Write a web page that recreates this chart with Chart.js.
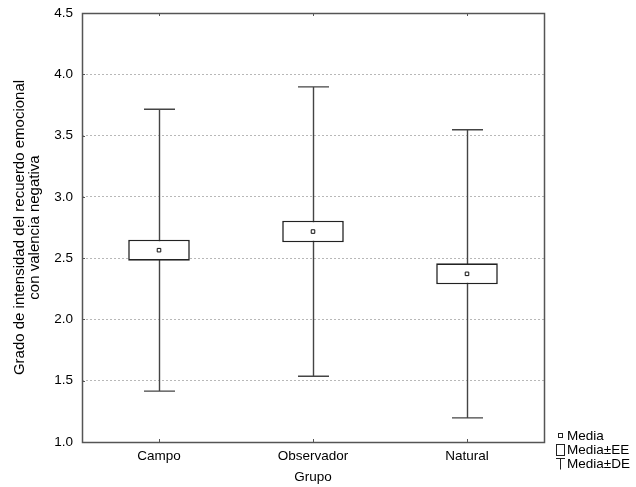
<!DOCTYPE html>
<html>
<head>
<meta charset="utf-8">
<script src="https://cdn.jsdelivr.net/npm/chart.js@4"></script>
<style>
html,body{margin:0;padding:0;background:#fff;}
#wrap{width:636px;height:487px;position:relative;}
</style>
</head>
<body>
<div id="wrap"><canvas id="c" width="636" height="487"></canvas></div>
<script>
const categories = ['Campo', 'Observador', 'Natural'];
const means = [2.565, 2.717, 2.372];
const se = [0.086, 0.088, 0.086];
const sd = [1.15, 1.18, 1.175];
const yTicks = [1.0, 1.5, 2.0, 2.5, 3.0, 3.5, 4.0, 4.5];
const legendLabels = ['Media', 'Media\u00B1EE', 'Media\u00B1DE'];
const yTitle = ['Grado de intensidad del recuerdo emocional', 'con valencia negativa'];
const xTitle = 'Grupo';

const FONT = 'Arial, "Liberation Sans", sans-serif';

const whiskerPlugin = {
  id: 'whiskers',
  beforeDatasetsDraw(chart) {
    const {ctx, scales: {x, y}} = chart;
    ctx.save();
    ctx.strokeStyle = '#444';
    ctx.lineWidth = 1.4;
    categories.forEach((c, i) => {
      const px = Math.round(x.getPixelForValue(i)) + 0.5;
      const top = y.getPixelForValue(means[i] + sd[i]);
      const bot = y.getPixelForValue(means[i] - sd[i]);
      ctx.beginPath();
      ctx.moveTo(px, top); ctx.lineTo(px, bot);
      ctx.moveTo(px - 15.5, top); ctx.lineTo(px + 15.5, top);
      ctx.moveTo(px - 15.5, bot); ctx.lineTo(px + 15.5, bot);
      ctx.stroke();
    });
    ctx.restore();
  },
  afterDraw(chart) {
    const {ctx, chartArea: a, scales: {x, y}} = chart;
    ctx.save();
    ctx.strokeStyle = '#555';
    ctx.lineWidth = 1.5;
    ctx.strokeRect(Math.round(a.left) + 0.5, Math.round(a.top) + 0.5, Math.round(a.right - a.left), Math.round(a.bottom - a.top));
    ctx.lineWidth = 1;
    ctx.beginPath();
    yTicks.forEach(v => {
      const py = Math.round(y.getPixelForValue(v)) + 0.5;
      ctx.moveTo(a.left, py); ctx.lineTo(a.left + 3, py);
    });
    categories.forEach((c, i) => {
      const px = Math.round(x.getPixelForValue(i)) + 0.5;
      ctx.moveTo(px, a.top); ctx.lineTo(px, a.top + 3);
      ctx.moveTo(px, a.bottom); ctx.lineTo(px, a.bottom - 3);
    });
    ctx.stroke();
    const lx = a.right + 13;
    const rows = [436, 450, 464];
    ctx.fillStyle = '#000';
    ctx.font = '13.5px ' + FONT;
    ctx.textBaseline = 'middle';
    ctx.textAlign = 'left';
    ctx.strokeStyle = '#222';
    ctx.lineWidth = 1;
    ctx.strokeRect(lx + 1.5, rows[0] - 2.5, 4, 4);
    ctx.strokeRect(lx - 0.5, rows[1] - 5.5, 8, 11);
    ctx.beginPath();
    ctx.moveTo(lx - 1, rows[2] - 5.5); ctx.lineTo(lx + 8, rows[2] - 5.5);
    ctx.moveTo(lx + 3.5, rows[2] - 5.5); ctx.lineTo(lx + 3.5, rows[2] + 5.5);
    ctx.stroke();
    ctx.fillText(legendLabels[0], lx + 10, rows[0]);
    ctx.fillText(legendLabels[1], lx + 10, rows[1]);
    ctx.fillText(legendLabels[2], lx + 10, rows[2]);
    ctx.restore();
  }
};

new Chart(document.getElementById('c'), {
  data: {
    labels: categories,
    datasets: [
      {
        type: 'bar',
        data: categories.map((c, i) => [means[i] - se[i], means[i] + se[i]]),
        backgroundColor: '#fff',
        borderColor: '#222',
        borderWidth: 1.6,
        borderSkipped: false,
        barPercentage: 0.40,
        categoryPercentage: 1.0,
        order: 2
      },
      {
        type: 'line',
        data: means,
        showLine: false,
        pointStyle: 'rect',
        pointRadius: 2.5,
        pointBackgroundColor: '#fff',
        pointBorderColor: '#111',
        pointBorderWidth: 1,
        order: 1
      }
    ]
  },
  options: {
    responsive: false,
    animation: false,
    events: [],
    layout: {padding: {top: 13, right: 92, bottom: 0, left: 0}},
    plugins: {legend: {display: false}, tooltip: {enabled: false}},
    scales: {
      x: {
        type: 'category',
        offset: true,
        grid: {display: false, drawTicks: false},
        border: {display: false},
        ticks: {color: '#000', font: {size: 13.5, family: FONT}, padding: 6, maxRotation: 0},
        title: {display: true, text: xTitle, color: '#000', font: {size: 13.5, family: FONT}, padding: {top: 0, bottom: 2}},
        afterFit(s) { s.height = 45; s.paddingLeft = 0; s.paddingRight = 0; }
      },
      y: {
        type: 'linear',
        min: 1.0, max: 4.5,
        afterBuildTicks(s) { s.ticks = yTicks.map(v => ({value: v})); },
        grid: {color: '#b8b8b8', lineWidth: 1, drawTicks: false},
        border: {display: false, dash: [2, 2]},
        ticks: {color: '#000', font: {size: 13.5, family: FONT}, padding: 9, callback: v => Number(v).toFixed(1)},
        title: {display: true, text: yTitle, color: '#000', font: {size: 15, family: FONT, lineHeight: 1.0}, padding: {top: 12, bottom: 0}},
        afterFit(s) { s.width = 82; s.paddingTop = 0; s.paddingBottom = 0; }
      }
    }
  },
  plugins: [whiskerPlugin]
});
</script>
</body>
</html>
